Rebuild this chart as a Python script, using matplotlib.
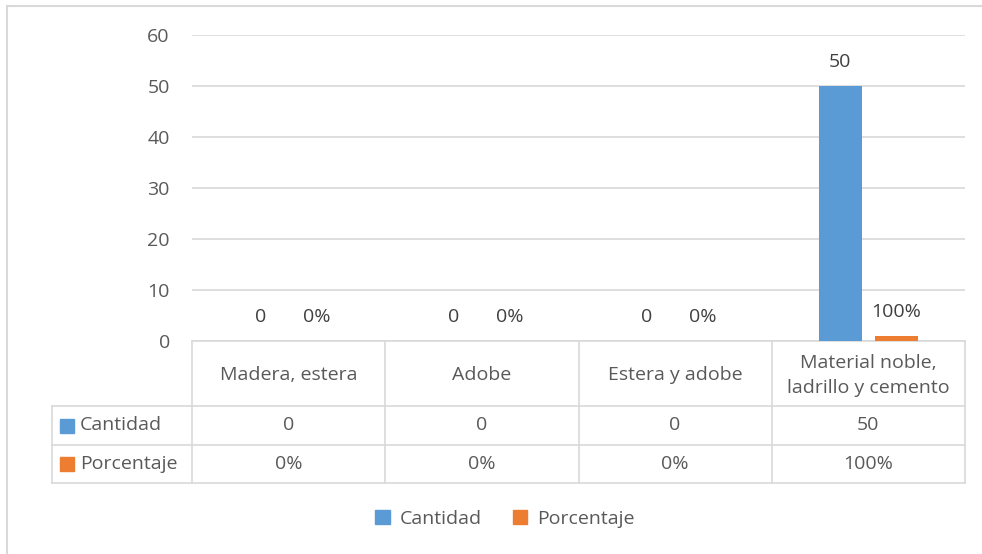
import matplotlib.pyplot as plt
from matplotlib.lines import Line2D
from matplotlib.patches import Rectangle
from matplotlib.transforms import blended_transform_factory

# datos del grafico
categorias = ["Madera, estera", "Adobe", "Estera y adobe", "Material noble,\nladrillo y cemento"]
cantidad = [0, 0, 0, 50]
porcentaje = [0.0, 0.0, 0.0, 1.0]
series = ["Cantidad", "Porcentaje"]
yticks = [0, 10, 20, 30, 40, 50, 60]

AZUL = "#5b9bd5"
NARANJA = "#ed7d31"
TEXTO = "#595959"
GRIS = "#d9d9d9"

plt.rcParams["font.family"] = ["Open Sans", "DejaVu Sans"]
FS = 14

W, H = 982, 554
fig = plt.figure(figsize=(W / 100, H / 100), dpi=100)

# area de trazado en pixeles
x0, x1, yt, yb = 192, 965, 35, 341
ax = fig.add_axes([x0 / W, 1 - yb / H, (x1 - x0) / W, (yb - yt) / H])

n = len(categorias)
xs = list(range(n))
ancho = 0.223
desp = 0.145

ax.bar([x - desp for x in xs], cantidad, ancho, color=AZUL, zorder=3)
ax.bar([x + desp for x in xs], porcentaje, ancho, color=NARANJA, zorder=3)

# etiquetas de datos
for x, v in zip(xs, cantidad):
    ax.annotate(f"{v}", (x - desp, v), xytext=(0, 17.5), textcoords="offset points",
                ha="center", va="center", fontsize=FS, color="#404040")
for x, v in zip(xs, porcentaje):
    ax.annotate(f"{v:.0%}", (x + desp, v), xytext=(0, 17.5), textcoords="offset points",
                ha="center", va="center", fontsize=FS, color="#404040")

ax.set_xlim(-0.5, n - 0.5)
ax.set_ylim(0, 60)
ax.set_yticks(yticks)
ax.set_xticks([])
ax.tick_params(axis="y", length=0, pad=16, labelsize=FS, labelcolor=TEXTO)
ax.yaxis.grid(True, color=GRIS, linewidth=1.2, zorder=0)
for s in ["top", "right", "left"]:
    ax.spines[s].set_visible(False)
ax.spines["bottom"].set_color(GRIS)
ax.spines["bottom"].set_linewidth(1.2)

# tabla de datos debajo del eje
tr = blended_transform_factory(ax.transData, ax.transAxes)
alto = yb - yt
px_x = (x1 - x0) / n

def fy(py):
    return (yb - py) / alto

fila_cab = fy(406)
fila1 = fy(445)
fila2 = fy(483)
xizq = (52 - x0) / px_x - 0.5

def linea(xa, xb, ya, yb_):
    ax.add_line(Line2D([xa, xb], [ya, yb_], transform=tr, color=GRIS,
                       linewidth=1.2, clip_on=False))

for i in range(n + 1):
    linea(i - 0.5, i - 0.5, 0, fila2)
for yy in [fila_cab, fila1, fila2]:
    linea(xizq, n - 0.5, yy, yy)
linea(xizq, xizq, fila_cab, fila2)

for x, cat in zip(xs, categorias):
    ax.text(x, fila_cab / 2 - 2 / alto, cat, transform=tr, ha="center", va="center",
            fontsize=FS, color=TEXTO, linespacing=1.55)
for x, v, p in zip(xs, cantidad, porcentaje):
    ax.text(x, (fila_cab + fila1) / 2, f"{v}", transform=tr, ha="center",
            va="center", fontsize=FS, color=TEXTO)
    ax.text(x, (fila1 + fila2) / 2, f"{p:.0%}", transform=tr, ha="center",
            va="center", fontsize=FS, color=TEXTO)

lado = 14
for nombre, col, y0, y1_ in [(series[0], AZUL, fila_cab, fila1),
                             (series[1], NARANJA, fila1, fila2)]:
    ym = (y0 + y1_) / 2
    ax.add_patch(Rectangle((xizq + 8 / px_x, ym - lado / 2 / alto), lado / px_x,
                           lado / alto, transform=tr, color=col, clip_on=False))
    ax.text(xizq + 28 / px_x, ym, nombre, transform=tr, ha="left", va="center",
            fontsize=FS, color=TEXTO)

# leyenda
handles = [Rectangle((0, 0), 1, 1, color=AZUL), Rectangle((0, 0), 1, 1, color=NARANJA)]
fig.legend(handles, series, loc="center", bbox_to_anchor=(505 / W, 1 - 519 / H),
           ncol=2, frameon=False, fontsize=FS, labelcolor=TEXTO,
           handlelength=0.75, handleheight=0.75, handletextpad=0.5, columnspacing=1.6)

# marco exterior
fig.add_artist(Line2D([7 / W, 7 / W], [0, 1 - 6 / H], transform=fig.transFigure,
                      color=GRIS, linewidth=1.5))
fig.add_artist(Line2D([7 / W, 1], [1 - 6 / H, 1 - 6 / H], transform=fig.transFigure,
                      color=GRIS, linewidth=1.5))

fig.savefig("out.png", dpi=100)
